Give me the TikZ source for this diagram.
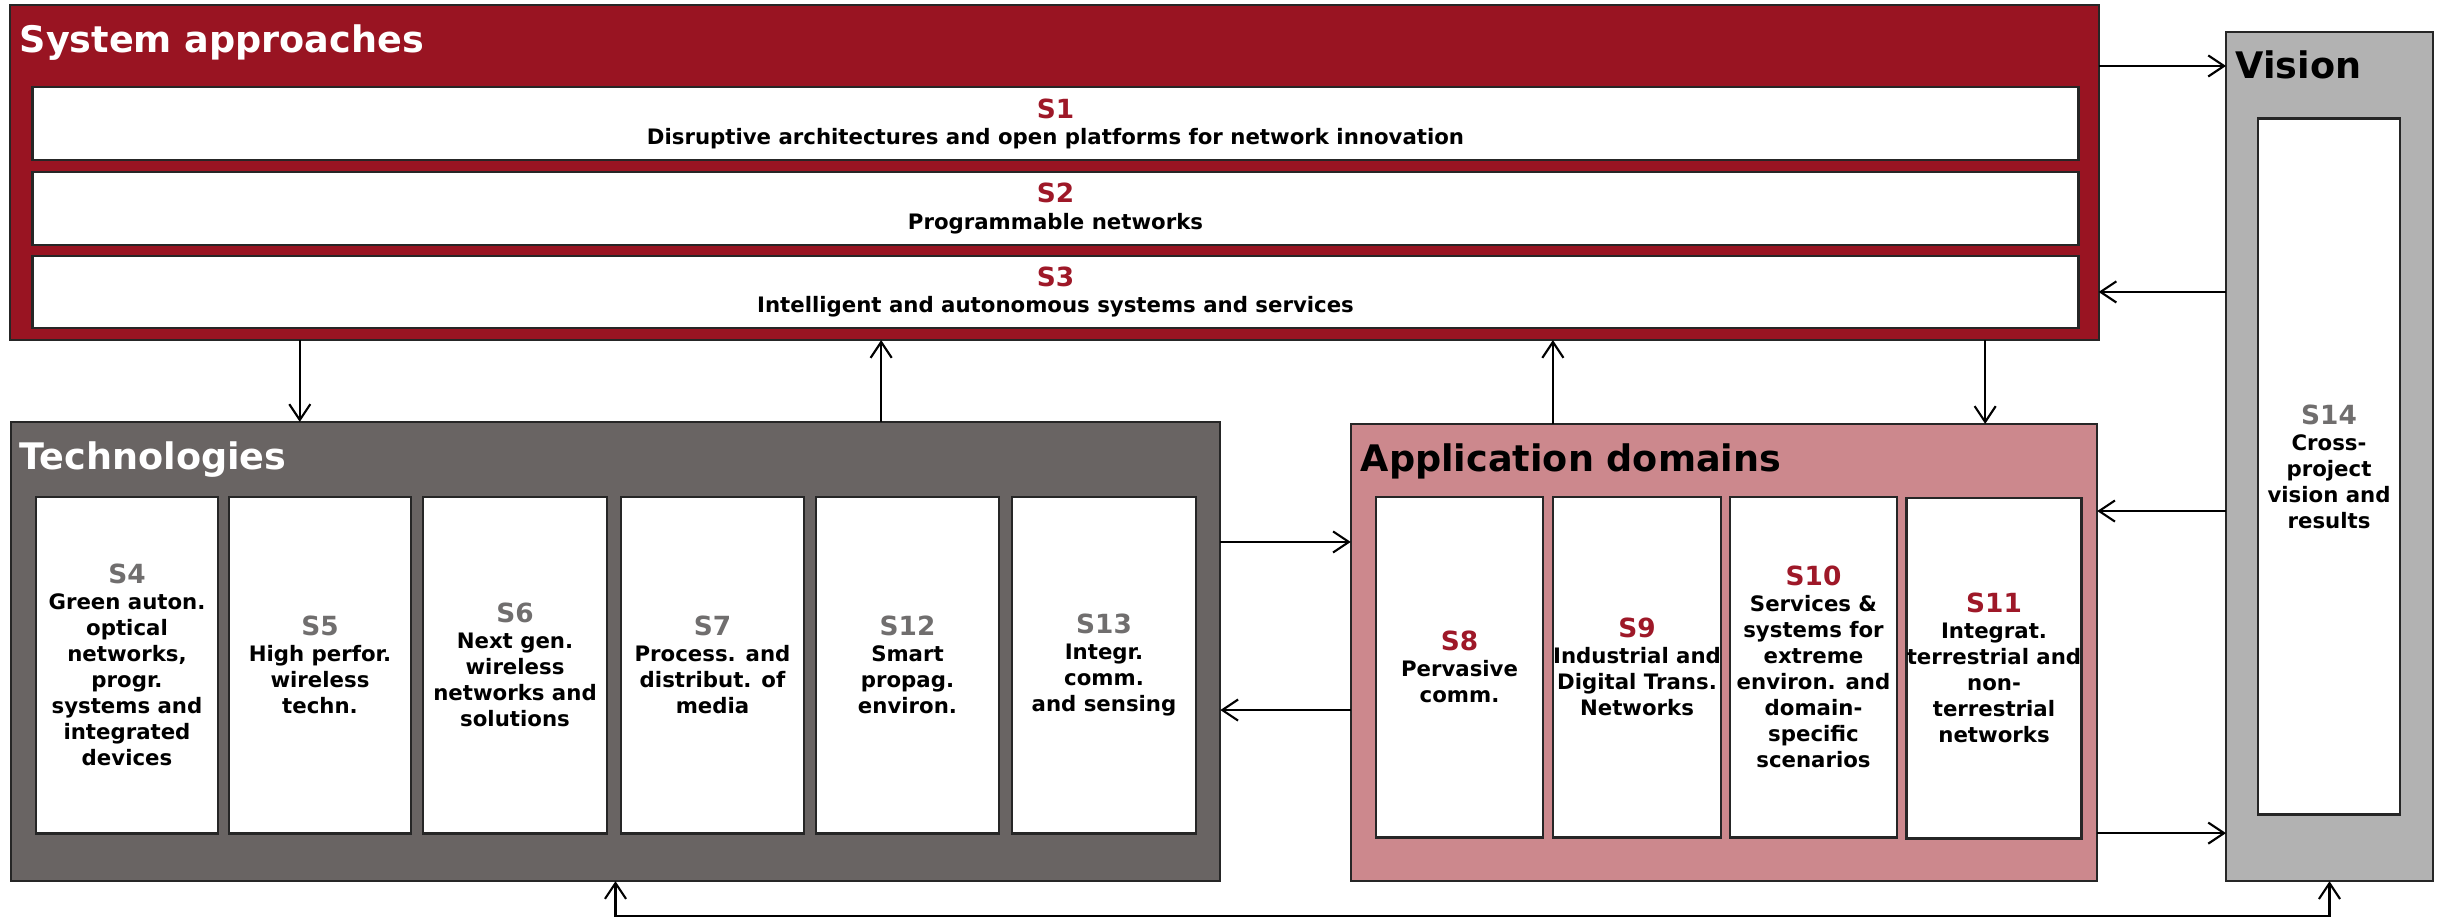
\documentclass[tikz,border=0pt]{standalone}
\usepackage{fontspec}
\setmainfont{DejaVu Sans}
\usetikzlibrary{arrows.meta}

\definecolor{sapred}{RGB}{153,20,34}
\definecolor{techgray}{RGB}{105,100,99}
\definecolor{apppink}{RGB}{204,136,141}
\definecolor{visgray}{RGB}{178,178,178}
\definecolor{labred}{RGB}{158,24,40}
\definecolor{labgray}{RGB}{112,110,110}

\newcommand{\snum}[2]{{\color{#1}\fontsize{7.5}{8}\selectfont #2}}

\begin{document}
\begin{tikzpicture}[x=0.01cm,y=-0.01cm,
   group/.style={draw=black!85,line width=0.6pt,inner sep=0pt,outer sep=0pt},
   sbox/.style={draw=black!85,fill=white,line width=0.8pt,inner sep=0pt,outer sep=0pt,
      align=center,font=\bfseries\fontsize{6.05}{7.4}\selectfont},
   title/.style={anchor=base west,inner sep=0pt,font=\bfseries\fontsize{10.4}{12}\selectfont},
   arr/.style={line width=0.6pt,-{Straight Barb[length=4.5pt,width=6pt]}},
   arrr/.style={line width=0.6pt,{Straight Barb[length=4.5pt,width=6pt]}-{Straight Barb[length=4.5pt,width=6pt]}}]
   \useasboundingbox (0,0) rectangle (2445,917);
   % system approaches
   \node[group,fill=sapred,minimum width=20.87cm,minimum height=3.35cm] (sapp) at (1054.5,172.5) {};
   \node[title,text=white] (sapptitle) at (19,52) {System approaches};
   \node[sbox,minimum width=20.45cm,minimum height=0.73cm] (s1) at (1055.5,123.5) {\snum{labred}{S1}\\Disruptive architectures and open platforms for network innovation};
   \node[sbox,minimum width=20.45cm,minimum height=0.73cm] (s2) at (1055.5,208.5) {\snum{labred}{S2}\\Programmable networks};
   \node[sbox,minimum width=20.45cm,minimum height=0.72cm] (s3) at (1055.5,292) {\snum{labred}{S3}\\Intelligent and autonomous systems and services};
   % vision
   \node[group,fill=visgray,minimum width=2.07cm,minimum height=8.49cm] (vis) at (2329.5,456.5) {};
   \node[title] (vistitle) at (2235,78) {Vision};
   \node[sbox,minimum width=1.42cm,minimum height=6.95cm] (s14) at (2329,466.5) {\snum{labgray}{S14}\\Cross-\\project\\vision and\\results};
   % technologies
   \node[group,fill=techgray,minimum width=12.09cm,minimum height=4.59cm] (tech) at (615.5,651.5) {};
   \node[title,text=white] (techtitle) at (19,469) {Technologies};
   \node[sbox,minimum width=1.82cm,minimum height=3.36cm] (s4) at (127,665) {\snum{labgray}{S4}\\Green auton.\\optical\\networks,\\progr.\\systems and\\integrated\\devices};
   \node[sbox,minimum width=1.82cm,minimum height=3.36cm] (s5) at (320,665) {\snum{labgray}{S5}\\High perfor.\\wireless\\techn.};
   \node[sbox,minimum width=1.84cm,minimum height=3.36cm] (s6) at (515,665) {\snum{labgray}{S6}\\Next gen.\\wireless\\networks and\\solutions};
   \node[sbox,minimum width=1.83cm,minimum height=3.36cm] (s7) at (712.5,665) {\snum{labgray}{S7}\\Process. and\\distribut. of\\media};
   \node[sbox,minimum width=1.83cm,minimum height=3.36cm] (s12) at (907.5,665) {\snum{labgray}{S12}\\Smart\\propag.\\environ.};
   \node[sbox,minimum width=1.84cm,minimum height=3.36cm] (s13) at (1104,665) {\snum{labgray}{S13}\\Integr.\\comm.\\and sensing};
   % application domains
   \node[group,fill=apppink,minimum width=7.46cm,minimum height=4.57cm] (app) at (1724,652.5) {};
   \node[title] (apptitle) at (1360,471) {Application domains};
   \node[sbox,minimum width=1.67cm,minimum height=3.40cm] (s8) at (1459.5,667) {\snum{labred}{S8}\\Pervasive\\comm.};
   \node[sbox,minimum width=1.68cm,minimum height=3.40cm] (s9) at (1637,667) {\snum{labred}{S9}\\Industrial and\\Digital Trans.\\Networks};
   \node[sbox,minimum width=1.67cm,minimum height=3.40cm] (s10) at (1813.5,667) {\snum{labred}{S10}\\Services \&\\systems for\\extreme\\environ. and\\domain-\\specific\\scenarios};
   \node[sbox,minimum width=1.68cm,minimum height=3.40cm] (s11) at (1994,668) {\snum{labred}{S11}\\Integrat.\\terrestrial and\\non-\\terrestrial\\networks};
   % connectors
   \draw[arr] ([xshift=2.89cm]tech.north west |- sapp.south) -- ([xshift=2.89cm]tech.north west); %sapp to tech
   \draw[arr] ([xshift=8.70cm]tech.north west) -- ([xshift=8.70cm]tech.north west |- sapp.south); %tech to sapp
   \draw[arr] ([xshift=2.02cm]app.north west) -- ([xshift=2.02cm]app.north west |- sapp.south); %app to sapp
   \draw[arr] ([xshift=6.34cm]app.north west |- sapp.south) -- ([xshift=6.34cm]app.north west); %sapp to app
   \draw[arr] ([yshift=-0.61cm]sapp.north east) -- ([yshift=-0.61cm]sapp.north east -| vis.west); %sapp to vision
   \draw[arr] ([yshift=-2.60cm]vis.north west) -- ([yshift=-2.60cm]vis.north west -| sapp.east); %vision to sapp
   \draw[arr] ([yshift=-4.79cm]vis.north west) -- ([yshift=-4.79cm]vis.north west -| app.east); %vision to app
   \draw[arr] ([yshift=0.48cm]app.south east) -- ([yshift=0.48cm]app.south east -| vis.west); %app to vision
   \draw[arr] ([yshift=-1.20cm]tech.north east) -- ([yshift=-1.20cm]tech.north east -| app.west); %tech to app
   \draw[arr] ([yshift=-2.86cm]app.north west) -- ([yshift=-2.86cm]app.north west -| tech.east); %app to tech
   \draw[arrr] (tech.south) -- ++(0,35) -| (vis.south); %tech and vision
\end{tikzpicture}
\end{document}
